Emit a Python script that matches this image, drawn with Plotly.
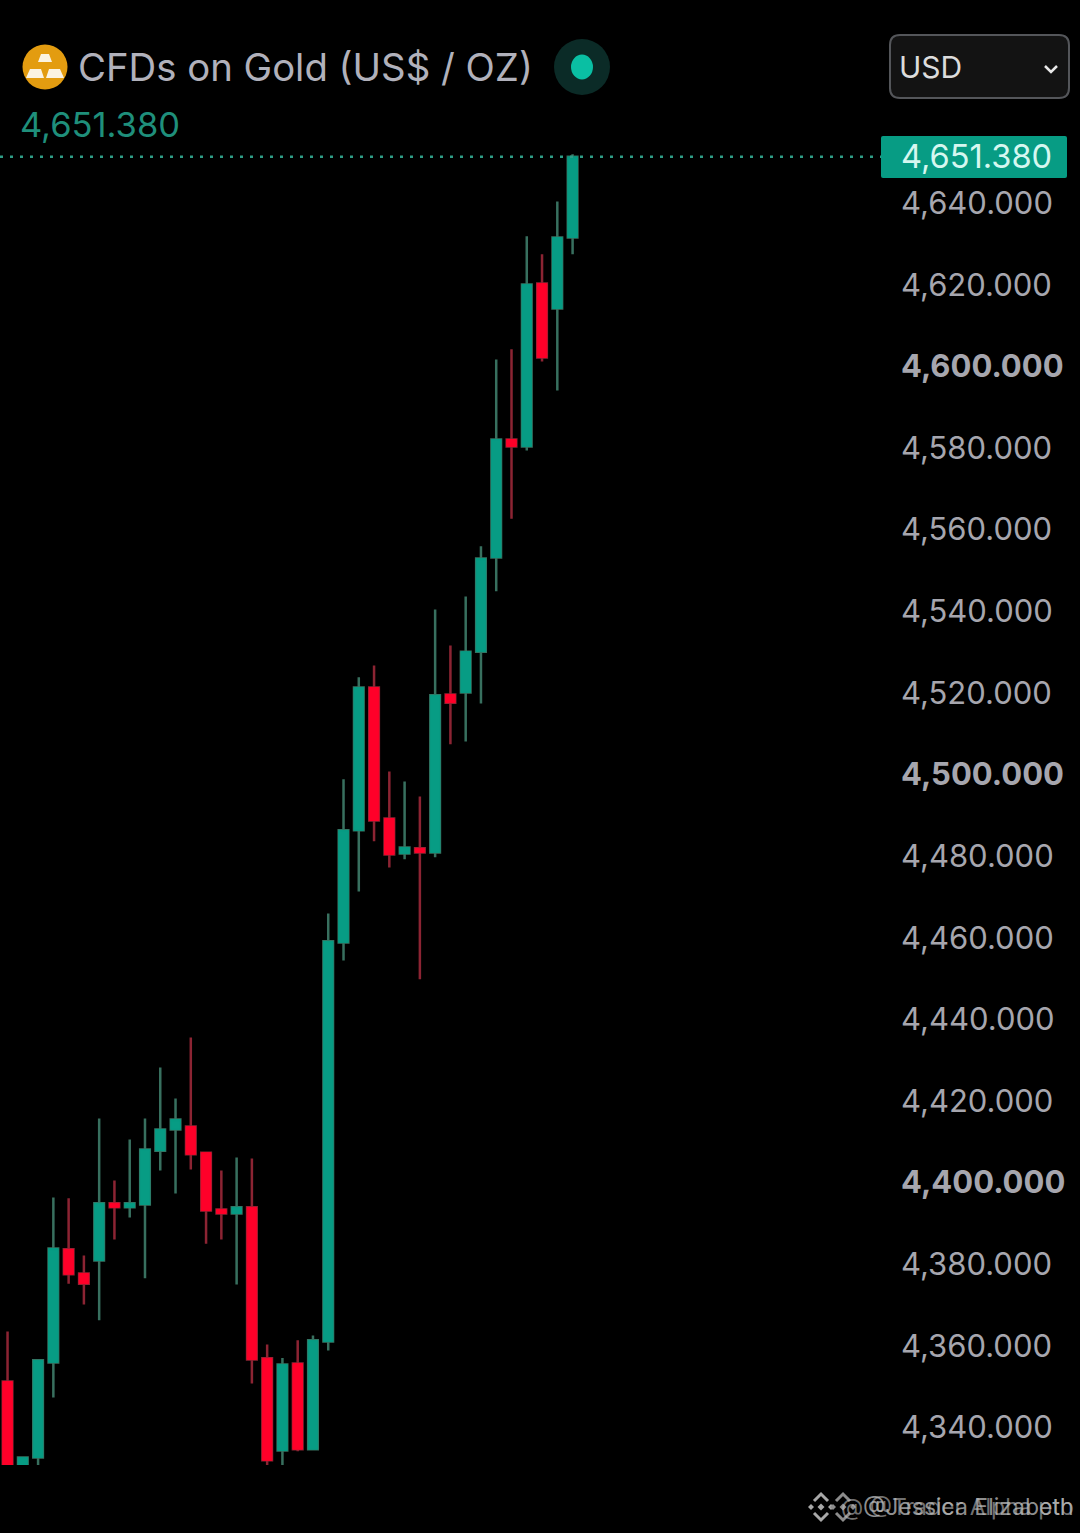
import plotly.graph_objects as go

# ------- data -------
opens = [4351.2, 4326.0, 4332.6, 4355.9, 4383.6, 4377.7, 4380.9, 4394.9, 4393.9, 4394.6,
         4407.8, 4413.0, 4413.7, 4407.3, 4393.4, 4392.4, 4393.9, 4356.9, 4334.3, 4355.6,
         4334.6, 4361.0, 4458.8, 4486.3, 4521.3, 4489.2, 4480.6, 4481.9, 4480.9, 4519.6,
         4520.1, 4530.1, 4553.2, 4582.1, 4580.4, 4620.3, 4614.2, 4631.6]
highs = [4363.5, 4332.8, 4356.6, 4396.3, 4396.1, 4382.1, 4415.7, 4400.5, 4410.5, 4415.7,
         4428.2, 4420.6, 4435.5, 4407.4, 4402.9, 4406.1, 4405.9, 4360.3, 4357.0, 4361.3,
         4362.5, 4465.9, 4498.8, 4523.8, 4526.7, 4500.7, 4498.3, 4494.6, 4540.4, 4531.6,
         4543.6, 4555.9, 4601.7, 4604.2, 4631.9, 4627.5, 4640.4, 4652.0]
lows = [4322.0, 4322.0, 4328.0, 4347.3, 4375.2, 4370.1, 4366.2, 4386.0, 4391.4, 4376.5,
        4402.9, 4397.3, 4403.2, 4385.0, 4386.0, 4375.0, 4350.7, 4329.0, 4329.0, 4334.1,
        4334.4, 4358.8, 4454.4, 4471.3, 4483.6, 4477.2, 4479.2, 4449.8, 4479.7, 4507.4,
        4508.1, 4517.4, 4544.9, 4562.7, 4579.4, 4601.2, 4594.1, 4627.5]
closes = [4326.0, 4332.6, 4356.4, 4383.8, 4377.5, 4375.2, 4394.9, 4393.9, 4394.9, 4408.1,
          4413.0, 4415.4, 4406.9, 4393.1, 4392.4, 4393.9, 4356.6, 4331.9, 4355.4, 4334.6,
          4361.3, 4459.1, 4486.3, 4521.3, 4488.7, 4480.4, 4482.1, 4480.9, 4519.4, 4517.6,
          4530.1, 4552.9, 4582.1, 4580.4, 4620.1, 4602.2, 4631.6, 4651.38]
candle_index = list(range(len(opens)))

tick_values = [4340, 4360, 4380, 4400, 4420, 4440, 4460, 4480, 4500,
               4520, 4540, 4560, 4580, 4600, 4620, 4640]
bold_ticks = [4400, 4500, 4600]
last_price = 4651.38
title_text = "CFDs on Gold (US$ / OZ)"
price_text = "4,651.380"
currency_text = "USD"

# ------- settings -------
W, H = 1080, 1533
GREEN, RED = "#079c84", "#ff0029"
GREEN_WICK, RED_WICK = "#38705f", "#8c2433"
TICK_FONT = "Inter"


def fx(px):
    return px / W


def fy(px):
    return 1 - px / H


def circle(cx, cy, rx, ry, color):
    return dict(type="circle", xref="paper", yref="paper", x0=fx(cx - rx), x1=fx(cx + rx),
                y0=fy(cy + ry), y1=fy(cy - ry), fillcolor=color, line_width=0, layer="above")


def poly(points, fill=None, line=None, width=0, closed=True):
    path = "M " + " L ".join(f"{fx(x):.5f},{fy(y):.5f}" for x, y in points)
    if closed:
        path += " Z"
    return dict(type="path", xref="paper", yref="paper", path=path, fillcolor=fill,
                line=dict(color=line, width=width), layer="above")


def round_rect(x0, y0, x1, y1, r, fill, line=None, width=0):
    pts = [(x0 + r, y0), (x1 - r, y0), (x1, y0), (x1, y0 + r), (x1, y1 - r), (x1, y1),
           (x1 - r, y1), (x0 + r, y1), (x0, y1), (x0, y1 - r), (x0, y0 + r), (x0, y0), (x0 + r, y0)]
    p = [f"{fx(x):.5f},{fy(y):.5f}" for x, y in pts]
    path = (f"M {p[0]} L {p[1]} Q {p[2]} {p[3]} L {p[4]} Q {p[5]} {p[6]} "
            f"L {p[7]} Q {p[8]} {p[9]} L {p[10]} Q {p[11]} {p[12]} Z")
    return dict(type="path", xref="paper", yref="paper", path=path, fillcolor=fill,
                line=dict(color=line, width=width), layer="above")


def diamond(cx, cy, r, color):
    return poly([(cx, cy - r), (cx + r, cy), (cx, cy + r), (cx - r, cy)], fill=color)


def logo(cx, cy, color):
    out = [diamond(cx, cy, 3.5, color), diamond(cx - 10, cy, 3, color), diamond(cx + 10, cy, 3, color)]
    out.append(poly([(cx - 7, cy - 6), (cx, cy - 13), (cx + 7, cy - 6)], line=color, width=3, closed=False))
    out.append(poly([(cx - 7, cy + 6), (cx, cy + 13), (cx + 7, cy + 6)], line=color, width=3, closed=False))
    return out


def label(x, y, text, size, color, font="Inter", anchor="left"):
    return dict(xref="paper", yref="paper", x=fx(x), y=fy(y), text=text, showarrow=False,
                xanchor=anchor, yanchor="middle", borderpad=0,
                font=dict(family=font, size=size, color=color))


# ------- chart -------
fig = go.Figure()

# wicks
fig.add_trace(go.Candlestick(
    x=candle_index, open=opens, high=highs, low=lows, close=closes,
    increasing=dict(line=dict(color=GREEN_WICK, width=2.5), fillcolor=GREEN),
    decreasing=dict(line=dict(color=RED_WICK, width=2.5), fillcolor=RED),
    showlegend=False, hoverinfo="skip",
))
# bodies on top, so that they keep the bright colour
fig.add_trace(go.Candlestick(
    x=candle_index, open=opens, close=closes,
    high=[max(o, c) for o, c in zip(opens, closes)],
    low=[min(o, c) for o, c in zip(opens, closes)],
    increasing=dict(line=dict(color=GREEN, width=1), fillcolor=GREEN),
    decreasing=dict(line=dict(color=RED, width=1), fillcolor=RED),
    showlegend=False,
))

tick_text = []
for v in tick_values:
    t = f"{v:,.3f}"
    tick_text.append(f"<b>{t}</b>" if v in bold_ticks else t)

shapes = [
    # last price line and tag
    dict(type="line", xref="paper", yref="y", x0=0, x1=fx(882), y0=last_price, y1=last_price,
         line=dict(color="#2f9c86", width=2.5, dash="3px,7px")),
    round_rect(881, 136, 1067, 178, 2, GREEN),
    # gold icon
    circle(45, 67, 22.5, 22.5, "#e39c10"),
    poly([(38, 62), (41, 54), (49, 54), (52, 62)], fill="#fbf3e2"),
    poly([(26, 78), (30, 69), (41, 69), (44, 78)], fill="#fbf3e2"),
    poly([(46, 78), (49, 69), (60, 69), (64, 78)], fill="#fbf3e2"),
    # live dot
    circle(582, 67, 28, 28, "#0b2b27"),
    circle(582, 67, 11, 12.5, "#0abfa3"),
    # currency select
    round_rect(890, 35, 1069, 98, 10, "#131313", "#54565a", 2),
    poly([(1045, 66), (1051, 72), (1057, 66)], line="#e8e8e8", width=2.5, closed=False),
]
shapes += logo(821, 1507, "#a8a8a8")
shapes += logo(843, 1507, "#8c8c8c")

annotations = [
    label(77, 67, title_text, 38.3, "#b1b1bb"),
    label(19, 124, price_text, 34.5, "#1f8f7b"),
    label(898, 67, currency_text, 30, "#dcdcdc"),
    label(900, 156, price_text, 32.6, "#d5f7f0", TICK_FONT),
    label(862, 1507, "@Jessica Elizabeth", 23, "rgba(190,190,190,0.75)"),
    label(840, 1507, "@ @Trader Alpha ptb", 23, "rgba(190,190,190,0.6)"),
]

fig.update_layout(
    width=W, height=H,
    margin=dict(l=0, r=0, t=0, b=0),
    paper_bgcolor="#000000", plot_bgcolor="#000000",
    boxgap=0.1,
    shapes=shapes, annotations=annotations,
    xaxis=dict(domain=[0, 880 / W], range=[-0.494, 57.13], visible=False, rangeslider=dict(visible=False)),
    yaxis=dict(domain=[(H - 1465) / H, (H - 130) / H], range=[4330.75, 4657.95], side="right",
               showgrid=False, zeroline=False, showline=False, ticks="",
               tickvals=tick_values, ticktext=tick_text, ticklabelstandoff=20,
               tickfont=dict(family=TICK_FONT, size=31, color="#a6a6ae")),
)

fig.write_html("out.html", config=dict(displayModeBar=False),
               post_script="document.body.style.margin='0';document.body.style.overflow='hidden';")
